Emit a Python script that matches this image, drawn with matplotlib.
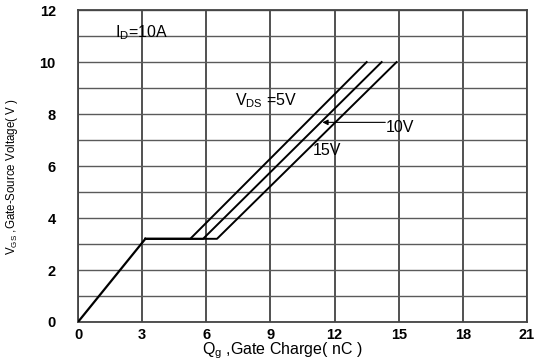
import matplotlib
matplotlib.use("Agg")
import matplotlib.pyplot as plt
from matplotlib import font_manager

# Data
qg_common = [0.0, 3.15]
vgs_common = [0.0, 3.2]
series_names = ["5V", "10V", "15V"]
plateau_end = [5.25, 5.85, 6.5]
plateau_v = 3.2
top_q = [13.5, 14.2, 14.9]
top_v = 10.0
x_ticks = [0, 3, 6, 9, 12, 15, 18, 21]
y_ticks = [0, 2, 4, 6, 8, 10, 12]

names = {f.name for f in font_manager.fontManager.ttflist}
main_font = "Liberation Sans" if "Liberation Sans" in names else "DejaVu Sans"
narrow_font = "Liberation Sans Narrow" if "Liberation Sans Narrow" in names else main_font
plt.rcParams['font.family'] = [main_font, 'DejaVu Sans']
plt.rcParams['mathtext.fontset'] = 'custom'
plt.rcParams['mathtext.rm'] = main_font

fig = plt.figure(figsize=(5.38, 3.6), dpi=100)
ax = fig.add_axes([0.145, 0.1056, 0.8346, 0.8664])
ax.set_xlim(0, 21)
ax.set_ylim(0, 12)

# grid
for x in range(0, 22, 3):
    ax.axvline(x, color='#333333', lw=1.2, zorder=1)
for y in range(0, 13):
    ax.axhline(y, color='#5a5a5a', lw=1.0, zorder=1)
for s in ax.spines.values():
    s.set_color('#444444')
    s.set_linewidth(1.3)

ax.plot(qg_common, vgs_common, color='black', lw=1.6, zorder=3)
for pe, tq in zip(plateau_end, top_q):
    ax.plot([qg_common[-1], pe, tq], [plateau_v, plateau_v, top_v], color='black', lw=1.4, zorder=3)

ax.set_xticks(x_ticks)
ax.set_yticks(y_ticks)
ax.set_xticklabels([str(v) for v in x_ticks], fontsize=10.5, fontweight='bold')
ax.set_yticklabels([str(v) for v in y_ticks], fontsize=10.5, fontweight='bold')
ax.tick_params(length=0)
ax.tick_params(axis='x', pad=4)
ax.tick_params(axis='y', pad=16)

fs = 11.5
ax.text(1.75, 11.15, r"I$_{\mathrm{D}}$=10A", fontsize=fs, va='center', ha='left')
ax.text(7.35, 8.5, r"V$_{\mathrm{DS}}$ =5V", fontsize=fs, va='center', ha='left')
ax.text(14.4, 7.5, "10V", fontsize=fs, va='center', ha='left')
ax.text(11.0, 6.6, "15V", fontsize=fs, va='center', ha='left')
ax.annotate("", xy=(11.3, 7.68), xytext=(14.5, 7.68),
            arrowprops=dict(arrowstyle='-|>', color='black', lw=0.8, mutation_scale=8), zorder=4)

fig.text(0.525, 0.026, r"Q$_{\mathrm{g}}$ ,Gate Charge( nC )", fontsize=11.5, ha='center', va='center')
fig.text(0.022, 0.508, r"V$_{\mathrm{GS}}$ ,Gate-Source Voltage( V )", fontsize=8.3, ha='center', va='center',
         rotation=90, family=[narrow_font, 'DejaVu Sans'])

fig.savefig("out.png", dpi=100)
